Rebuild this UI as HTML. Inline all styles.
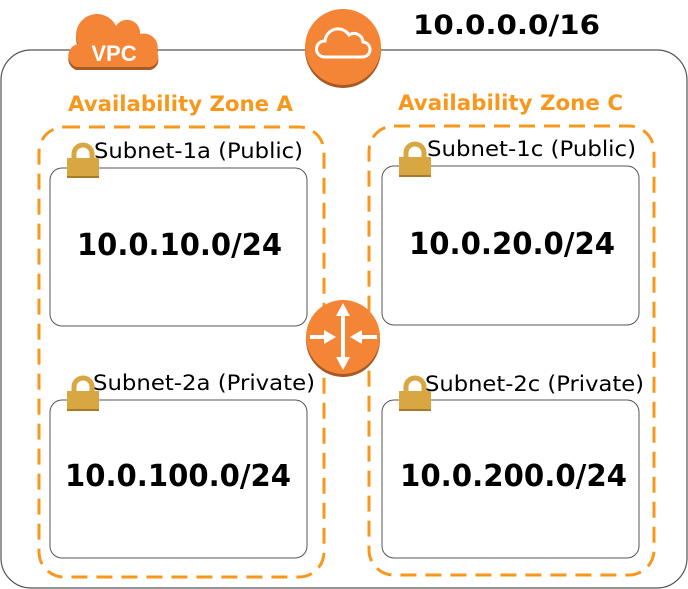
<!DOCTYPE html>
<html><head><style>body{margin:0;background:#fff}svg{display:block}</style></head><body>
<svg width="688" height="589" viewBox="0 0 688 589" xmlns="http://www.w3.org/2000/svg" font-family="'DejaVu Sans', 'Liberation Sans', sans-serif">
<defs>
<g id="lock">
<path d="M7 15 V10 a9 9 0 0 1 18 0 V15" fill="none" stroke="#d9a741" stroke-width="5"/>
<rect x="0" y="14" width="32" height="20" fill="#d9a741"/>
<rect x="0" y="32" width="32" height="2" fill="#a67c2a"/>
</g>
</defs>
<rect x="1" y="50" width="686" height="538" rx="30" fill="#fff" stroke="#555" stroke-width="1.2"/>
<g>
<path d="M76 70 a12 12 0 0 1 2 -23 a21 21 0 0 1 38 -18 a13 13 0 0 1 24 8 a14 14 0 0 1 17 18 a10 10 0 0 1 -7 15 z" fill="#a85a24"/>
<path d="M76 67 a12 12 0 0 1 2 -23 a21 21 0 0 1 38 -18 a13 13 0 0 1 24 8 a14 14 0 0 1 17 18 a10 10 0 0 1 -7 15 z" fill="#f58536"/>
<text x="114" y="61" font-size="22" font-weight="bold" fill="#fff" text-anchor="middle" font-family="'Liberation Sans Narrow','Liberation Sans',sans-serif">VPC</text>
</g>
<circle cx="343" cy="50" r="38" fill="#a85a24"/>
<circle cx="343" cy="47" r="38" fill="#f58536"/>
<path d="M324 57 a8 8 0 0 1 1 -16 a13 13 0 0 1 24 -6 a9 9 0 0 1 14 7 a7.5 7.5 0 0 1 -1 15 z" fill="none" stroke="#fff" stroke-width="3"/>
<text x="413" y="34" font-size="27" font-weight="bold" fill="#000" textLength="187" lengthAdjust="spacingAndGlyphs">10.0.0.0/16</text>
<text x="68" y="111" font-size="21" font-weight="bold" fill="#f7981d" textLength="225" lengthAdjust="spacingAndGlyphs">Availability Zone A</text>
<text x="398" y="110" font-size="21" font-weight="bold" fill="#f7981d" textLength="225" lengthAdjust="spacingAndGlyphs">Availability Zone C</text>
<rect x="39" y="127" width="285" height="450" rx="25" fill="none" stroke="#f7981d" stroke-width="3" stroke-dasharray="16 9"/>
<rect x="369" y="126" width="285" height="449" rx="25" fill="none" stroke="#f7981d" stroke-width="3" stroke-dasharray="16 9"/>
<rect x="50" y="168" width="257" height="158" rx="12" fill="#fff" stroke="#555"/>
<rect x="382" y="166" width="257" height="159" rx="12" fill="#fff" stroke="#555"/>
<rect x="50" y="400" width="257" height="158" rx="12" fill="#fff" stroke="#555"/>
<rect x="382" y="400" width="257" height="158" rx="12" fill="#fff" stroke="#555"/>
<g font-size="21" fill="#000">
<text x="94" y="158" textLength="209" lengthAdjust="spacingAndGlyphs">Subnet-1a (Public)</text>
<text x="427" y="156" textLength="209" lengthAdjust="spacingAndGlyphs">Subnet-1c (Public)</text>
<text x="93" y="390" textLength="222" lengthAdjust="spacingAndGlyphs">Subnet-2a (Private)</text>
<text x="425" y="391" textLength="219" lengthAdjust="spacingAndGlyphs">Subnet-2c (Private)</text>
</g>
<use href="#lock" x="67" y="144"/>
<use href="#lock" x="399" y="143"/>
<use href="#lock" x="67" y="377"/>
<use href="#lock" x="399" y="377"/>
<g font-size="30" font-weight="bold" fill="#000">
<text x="77" y="255" textLength="205" lengthAdjust="spacingAndGlyphs">10.0.10.0/24</text>
<text x="409" y="254" textLength="206" lengthAdjust="spacingAndGlyphs">10.0.20.0/24</text>
<text x="65" y="486" textLength="226" lengthAdjust="spacingAndGlyphs">10.0.100.0/24</text>
<text x="400" y="486" textLength="227" lengthAdjust="spacingAndGlyphs">10.0.200.0/24</text>
</g>
<circle cx="343" cy="340" r="37" fill="#a85a24"/>
<circle cx="343" cy="337" r="37" fill="#f58536"/>
<g fill="#fff">
<rect x="341" y="313" width="4" height="48"/>
<polygon points="343,303 336,316 350,316"/>
<polygon points="343,370 336,357 350,357"/>
<rect x="310" y="335" width="16" height="4"/>
<polygon points="336,337 324,330 324,344"/>
<rect x="361" y="335" width="16" height="4"/>
<polygon points="350,337 362,330 362,344"/>
</g>
</svg>
</body></html>
